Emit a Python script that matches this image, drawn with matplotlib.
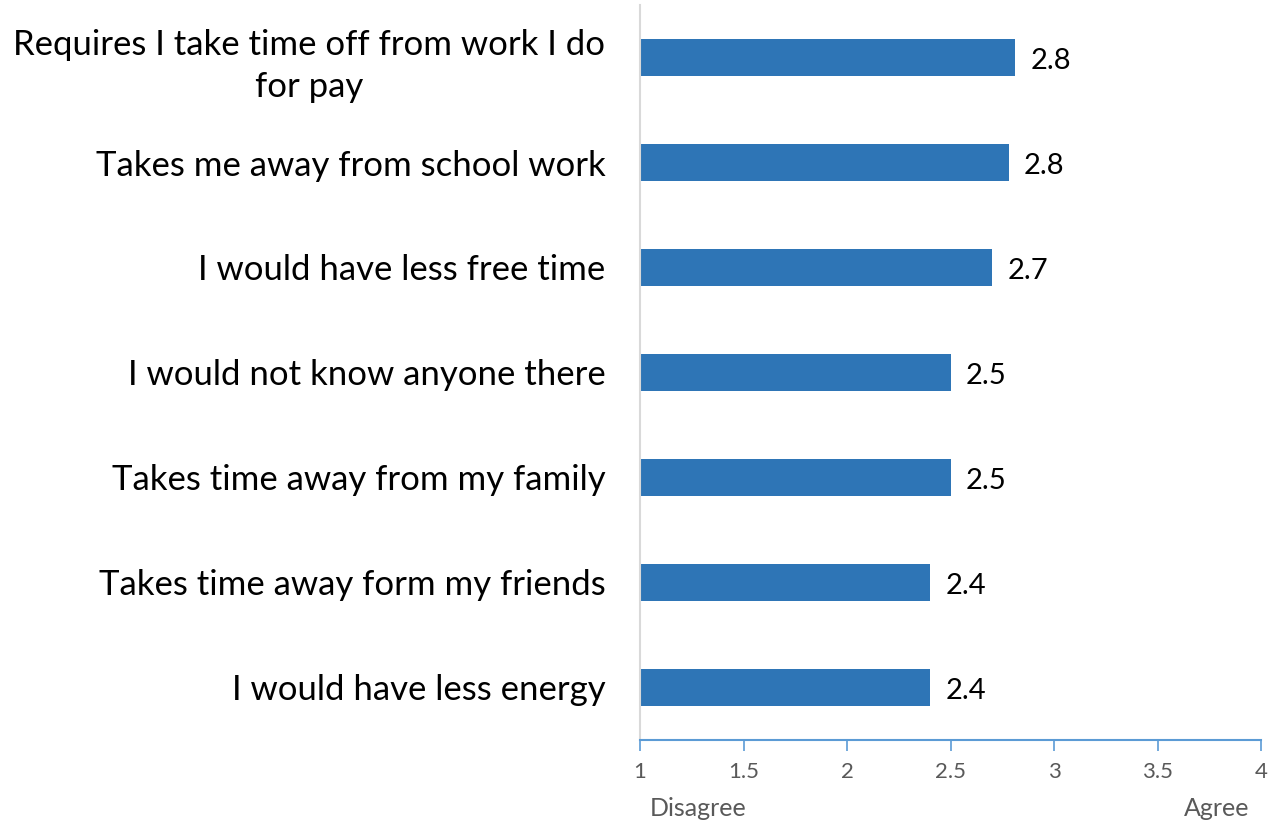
import matplotlib
matplotlib.use("Agg")
import matplotlib.pyplot as plt

# survey items, top to bottom
labels = [
    "Requires I take time off from work I do\nfor pay",
    "Takes me away from school work",
    "I would have less free time",
    "I would not know anyone there",
    "Takes time away from my family",
    "Takes time away form my friends",
    "I would have less energy",
]
means = [2.81, 2.78, 2.70, 2.50, 2.50, 2.40, 2.40]
xticks = [1, 1.5, 2, 2.5, 3, 3.5, 4]
xtick_labels = ["1", "1.5", "2", "2.5", "3", "3.5", "4"]

plt.rcParams['font.family'] = ['Lato', 'DejaVu Sans']

fig = plt.figure(figsize=(12.86, 8.23), dpi=100)
ax = fig.add_axes([0.4977, 0.1009, 0.4829, 0.893])

ypos = list(range(len(labels)))
bars = ax.barh(ypos, [m - 1 for m in means], left=1, height=0.36, color="#2e75b6")
for y, m in zip(ypos, means):
    ax.text(m + 0.075, y + 0.03, "%.1f" % m, va="center", ha="left", fontsize=21, color="black")

ax.set_xlim(1, 4)
ax.set_ylim(len(labels) - 0.5, -0.5)
ax.set_yticks(ypos)
ax.set_yticklabels(labels, fontsize=25, multialignment="center", linespacing=1.4)
ax.tick_params(axis="y", length=0, pad=25)
ax.set_xticks(xticks)
ax.set_xticklabels(xtick_labels, fontsize=16, color="#595959")
ax.tick_params(axis="x", direction="out", length=8, width=1.2, color="#5b9bd5", pad=8)

for s in ["top", "right"]:
    ax.spines[s].set_visible(False)
ax.spines["left"].set_color("#d9d9d9")
ax.spines["left"].set_linewidth(1.5)
ax.spines["bottom"].set_color("#5b9bd5")
ax.spines["bottom"].set_linewidth(1.5)

fig.text(698 / 1286, 1 - 808 / 823, "Disagree", ha="center", va="center", fontsize=18, color="#595959")
fig.text(1217 / 1286, 1 - 808 / 823, "Agree", ha="center", va="center", fontsize=18, color="#595959")

fig.savefig("out.png", dpi=100)
